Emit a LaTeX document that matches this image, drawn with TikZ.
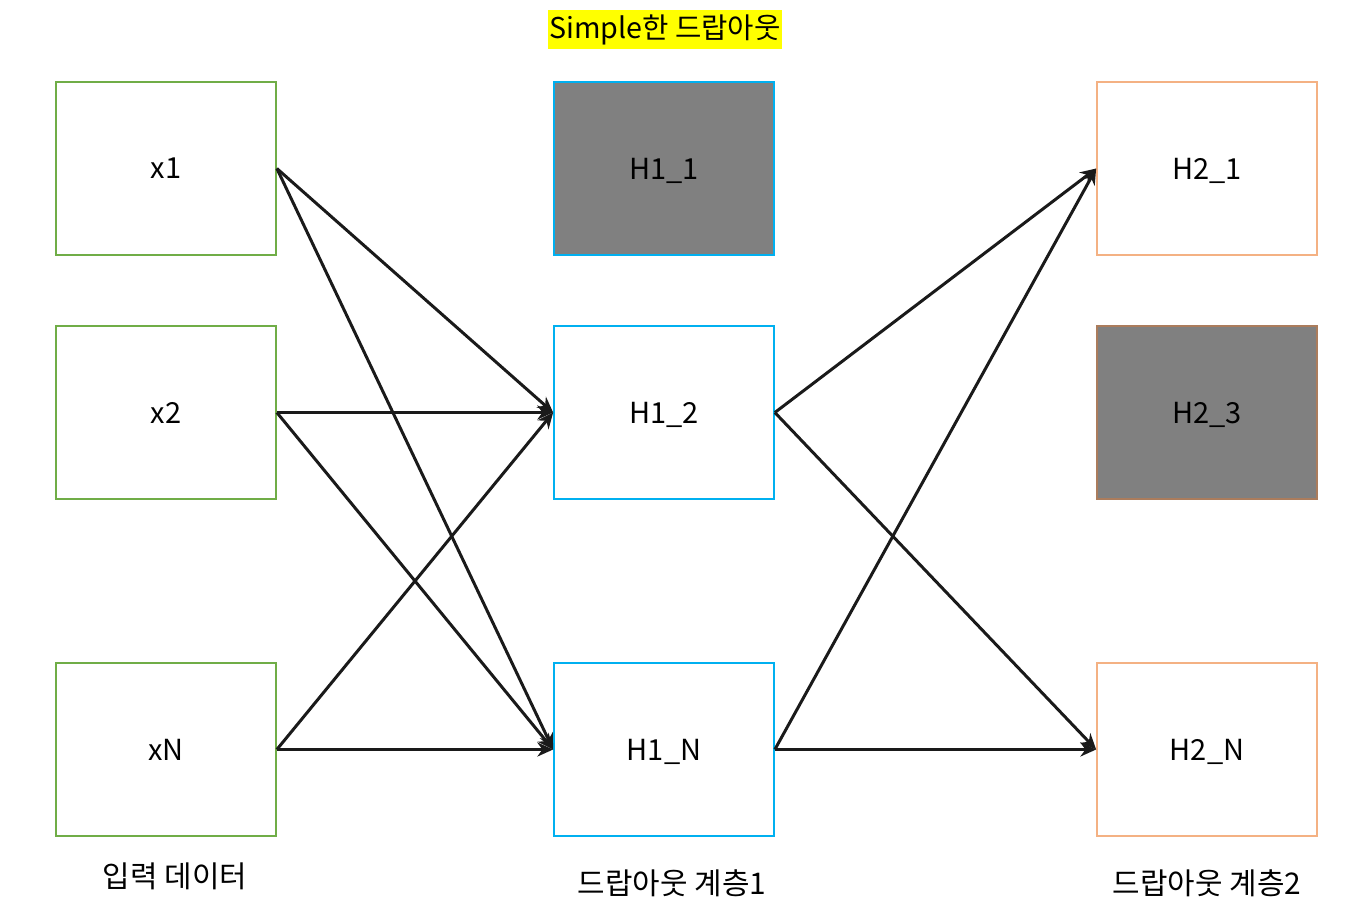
\documentclass[tikz,border=0pt]{standalone}
\usepackage{fontspec}
\setmainfont{Noto Sans CJK KR}
\usepackage{xcolor}
\usepackage{tikz}
\usetikzlibrary{positioning, arrows.meta}
\definecolor{lgreen}{RGB}{112,173,71}
\definecolor{lblue}{RGB}{0,176,240}
\definecolor{lorange}{RGB}{244,177,131}
\definecolor{dgray}{RGB}{128,128,128}
\definecolor{hyellow}{RGB}{255,255,0}
\definecolor{arrowc}{RGB}{26,26,26}

\begin{document}
\begin{tikzpicture}[x=0.02cm, y=-0.02cm,
    every node/.style={font=\fontsize{16.5}{19}\selectfont},
    unit/.style={draw, line width=1pt, minimum width=4.4cm, minimum height=3.46cm, inner sep=0pt, text depth=0pt},
    inunit/.style={unit, draw=lgreen},
    hunit/.style={unit, draw=lblue},
    ounit/.style={unit, draw=lorange},
    dropped/.style={fill=dgray},
    conn/.style={draw=arrowc, line width=1.7pt, -{Stealth[length=9pt, width=8pt]}},
    caption/.style={font=\fontsize{17}{20}\selectfont}]
    \useasboundingbox (0,0) rectangle (1358,923);

    % input layer
    \node[inunit] (x1) at (166,168.5) {x1};
    \node[inunit] (x2) at (166,412.5) {x2};
    \node[inunit] (xN) at (166,749.5) {xN};

    % dropout layer 1
    \node[hunit, dropped] (h11) at (664,168.5) {H1\_1};
    \node[hunit] (h12) at (664,412.5) {H1\_2};
    \node[hunit] (h1N) at (664,749.5) {H1\_N};

    % dropout layer 2
    \node[ounit] (h21) at (1207,168.5) {H2\_1};
    \node[ounit, dropped, draw=lorange!70!black] (h23) at (1207,412.5) {H2\_3};
    \node[ounit] (h2N) at (1207,749.5) {H2\_N};

    % captions
    \node[fill=hyellow, inner xsep=1pt, inner ysep=2.5pt, font=\fontsize{16.3}{19}\selectfont] (title) at (665,29.5) {Simple한 드랍아웃};
    \node[caption] (cin) at (175,876) {입력 데이터};
    \node[caption] (ch1) at (672,883) {드랍아웃 계층1};
    \node[caption] (ch2) at (1207,883) {드랍아웃 계층2};

    % connections
    \foreach \a in {x1, x2, xN} {
      \draw[conn] (\a.east) -- (h12.west);
      \draw[conn] (\a.east) -- (h1N.west);
    }
    \foreach \a in {h12, h1N} {
      \draw[conn] (\a.east) -- (h21.west);
      \draw[conn] (\a.east) -- (h2N.west);
    }
\end{tikzpicture}
\end{document}
